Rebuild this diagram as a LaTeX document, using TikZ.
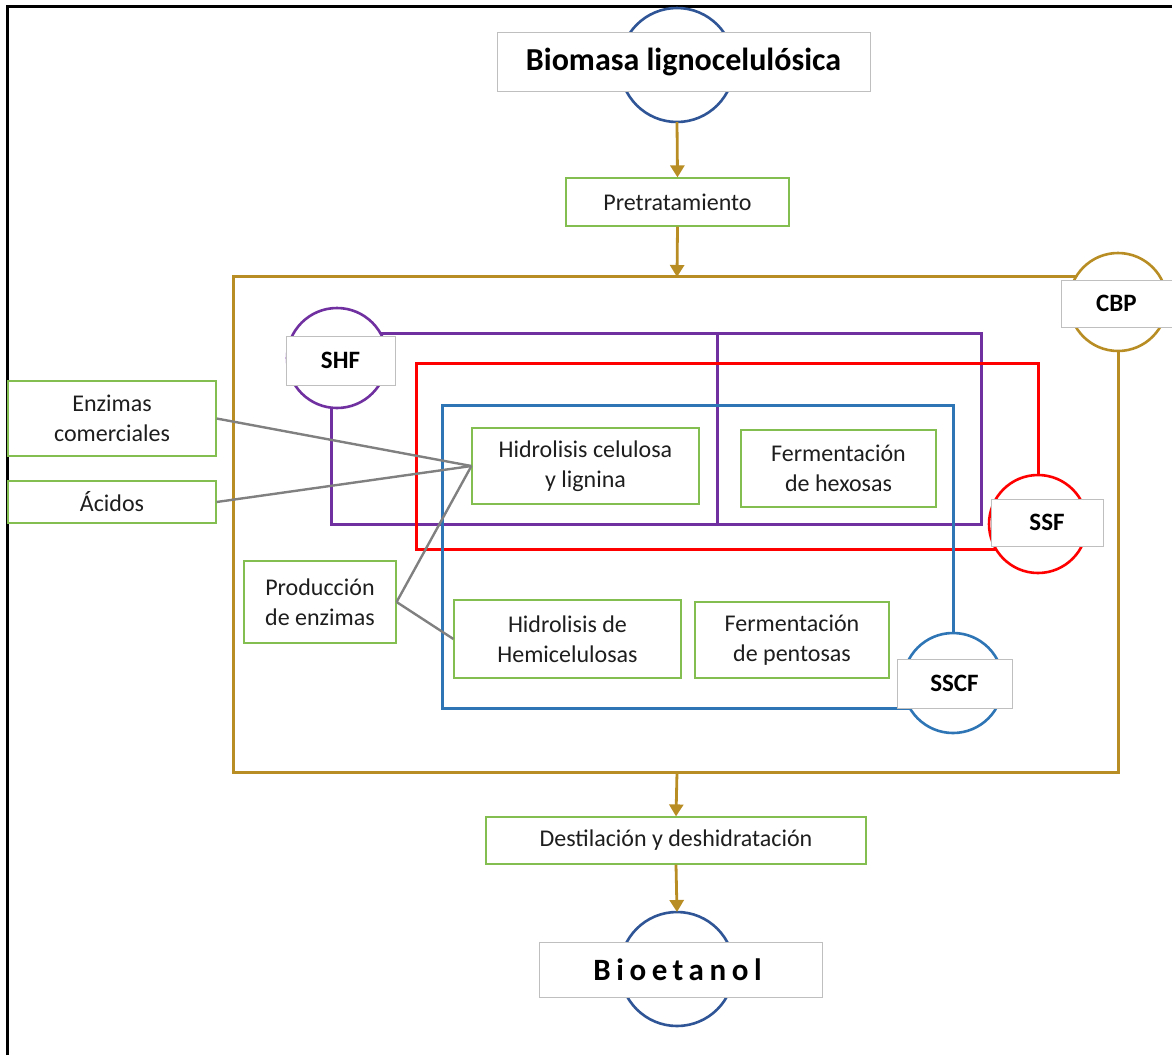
\documentclass[tikz,border=0pt]{standalone}
\usepackage{fontspec}
\setmainfont{Carlito}
\usetikzlibrary{arrows.meta}
\definecolor{oro}{RGB}{184,142,36}
\definecolor{morado}{RGB}{112,48,160}
\definecolor{rojo}{RGB}{255,0,0}
\definecolor{azul}{RGB}{46,117,182}
\definecolor{azulosc}{RGB}{47,85,151}
\definecolor{verde}{RGB}{130,190,80}
\definecolor{gris}{RGB}{128,128,128}
\definecolor{grisclaro}{RGB}{191,191,191}
\definecolor{texto}{RGB}{30,30,30}

\begin{document}
\begin{tikzpicture}[x=0.5pt,y=-0.5pt]
          \tikzset{paso/.style={draw=verde,line width=0.6pt,fill=white,inner sep=0pt,align=center,text=texto,font=\fontsize{12}{15}\selectfont}};
          \tikzset{anillo/.style={circle,draw=#1,line width=1.3pt,fill=white,inner sep=0pt,outer sep=0pt}};
          \tikzset{rotulo/.style={draw=grisclaro,line width=0.5pt,fill=white,inner sep=0pt,font=\bfseries\fontsize{12.5}{15}\selectfont}};
          \tikzset{marco/.style={line width=1.5pt,draw=#1}};
          \tikzset{flecha/.style={draw=oro,line width=1.4pt,-{Triangle[width=7pt,length=6pt]}}};
          \tikzset{enlace/.style={draw=gris,line width=1.2pt}};

          \useasboundingbox (0,0) rectangle (1172,1055);
          \draw[line width=1.5pt] (7,1055) -- (7,6) -- (1172,6);

          % circulos
          \node[anillo=azulosc,minimum size=57pt] (bioc) at (677,65) {};
          \node[anillo=azulosc,minimum size=57pt] (etoc) at (677,969) {};
          \node[anillo=oro,minimum size=49pt] (cbpc) at (1118,302) {};
          \node[anillo=morado,minimum size=50pt] (shfc) at (337,358) {};
          \node[anillo=rojo,minimum size=49pt] (ssfc) at (1038,524) {};
          \node[anillo=azul,minimum size=50pt] (sscfc) at (953,683) {};

          % marcos de los procesos
          \draw[marco=oro] (cbpc.149) -| (233,772) -| (cbpc.-90);
          \draw[marco=morado] (shfc.29) -| (981,524) -| (shfc.-96);
          \draw[marco=morado] (717,334) -- (717,524);
          \draw[marco=rojo] (ssfc.90) |- (416,363) |- (ssfc.211);
          \draw[marco=azul] (sscfc.90) |- (442,405) |- (sscfc.210);

          % etapas
          \node[paso,minimum width=111.5pt,minimum height=24pt] (pre) at (677.5,202) {Pretratamiento};
          \node[paso,minimum width=104pt,minimum height=37.5pt] (enz) at (112,418.5) {Enzimas\\comerciales};
          \node[paso,minimum width=104pt,minimum height=21pt] (aci) at (112,502) {Ácidos};
          \node[paso,minimum width=113.5pt,minimum height=38pt] (hcel) at (585.5,466) {Hidrolisis celulosa\\y lignina};
          \node[paso,minimum width=97.5pt,minimum height=38.5pt] (fhex) at (838.5,468.5) {Fermentación\\de hexosas};
          \node[paso,minimum width=76pt,minimum height=41pt] (prod) at (320,602) {Producción\\de enzimas};
          \node[paso,minimum width=113.5pt,minimum height=39pt] (hhem) at (567.5,639) {Hidrolisis de\\Hemicelulosas};
          \node[paso,minimum width=97pt,minimum height=38pt] (fpen) at (792,640) {Fermentación\\de pentosas};
          \node[paso,minimum width=190pt,minimum height=23.5pt] (dest) at (676,840.5) {Destilación y deshidratación};

          % rotulos
          \node[rotulo,minimum width=186.5pt,minimum height=29.5pt,font=\bfseries\fontsize{16}{19}\selectfont] (bio) at (683.5,61.5) {Biomasa lignocelulósica};
          \node[rotulo,minimum width=141.5pt,minimum height=27.5pt,font=\bfseries\fontsize{15.5}{18}\selectfont\addfontfeatures{LetterSpace=18}] (eto) at (680.5,969.5) {\hspace*{-3pt}Bioetanol};
          \node[rotulo,minimum width=55.5pt,minimum height=23.5pt] (cbp) at (1116.5,303.5) {CBP};
          \node[rotulo,minimum width=54.5pt,minimum height=24.5pt] (shf) at (340.5,360.5) {SHF};
          \node[rotulo,minimum width=56pt,minimum height=23.5pt] (ssf) at (1047,522.5) {SSF};
          \node[rotulo,minimum width=57.5pt,minimum height=24.5pt] (sscf) at (954.5,683.5) {SSCF};

          \coordinate (cbparr) at (677,277);
          \coordinate (cbpab) at (677,772);

          \draw[flecha] (bioc.south) -- (pre.north);
          \draw[flecha] (pre.south) -- (cbparr);
          \draw[flecha] (cbpab) -- (dest.north);
          \draw[flecha] (dest.south) -- (etoc.north);

          \draw[enlace] (enz.east) -- (hcel.west);
          \draw[enlace] (aci.east) -- (hcel.west);
          \draw[enlace] (prod.east) -- (hcel.west);
          \draw[enlace] (prod.east) -- (hhem.west);
\end{tikzpicture}
\end{document}
